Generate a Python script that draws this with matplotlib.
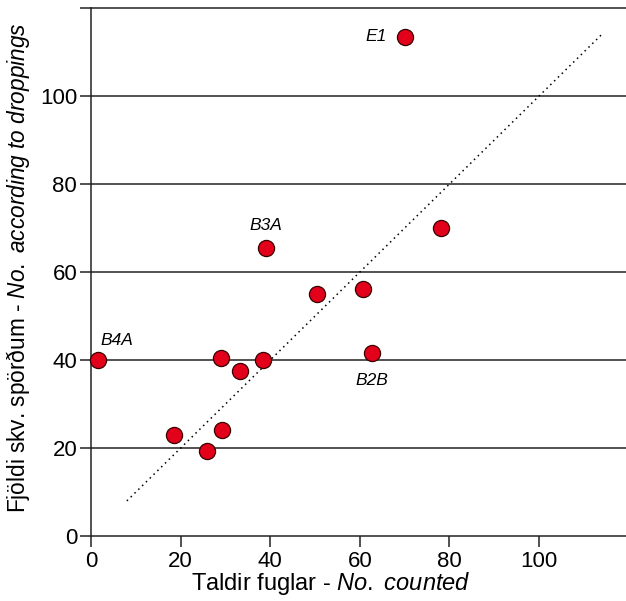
import matplotlib
matplotlib.use("Agg")
import matplotlib.pyplot as plt

plt.rcParams["font.family"] = ["Liberation Sans", "DejaVu Sans"]
plt.rcParams["mathtext.fontset"] = "custom"
plt.rcParams["mathtext.rm"] = "Liberation Sans"
plt.rcParams["mathtext.it"] = "Liberation Sans:italic"

# values
counted = [1.5, 18.5, 25.9, 29.3, 28.9, 33.2, 38.4, 39.1, 50.4, 60.6, 62.7, 70.1, 78.1]
droppings = [40.0, 23.0, 19.4, 24.1, 40.5, 37.5, 40.0, 65.5, 55.1, 56.2, 41.5, 113.5, 70.1]
site_labels = ["B4A", "", "", "", "", "", "", "B3A", "", "", "B2B", "E1", ""]
label_offsets = {"B4A": (0.5, 4.5), "B3A": (0, 5), "B2B": (0, -6.2), "E1": (-4, 0)}
label_align = {"B4A": "left", "B3A": "center", "B2B": "center", "E1": "right"}
one_to_one = [8, 114]
ytick_vals = [0, 20, 40, 60, 80, 100, 120]
ytick_text = ["0", "20", "40", "60", "80", "100", ""]
xtick_vals = [0, 20, 40, 60, 80, 100]

fig = plt.figure(figsize=(6.26, 6.01), dpi=100)
ax = fig.add_axes([0.1454, 0.108, 0.8546, 0.8787])

for y in ytick_vals[1:]:
    ax.axhline(y, color="#222222", lw=1.1, zorder=1, clip_on=False)

ax.plot(one_to_one, one_to_one, linestyle=(0, (1, 2.5)), color="black", lw=1.1, zorder=2)

ax.scatter(counted, droppings, s=135, color="#e2001a", edgecolor="#3a0000",
           linewidth=0.9, zorder=3, clip_on=False)

for x, y, lab in zip(counted, droppings, site_labels):
    if not lab:
        continue
    dx, dy = label_offsets[lab]
    ax.text(x + dx, y + dy, lab, ha=label_align[lab], va="center",
            fontsize=12.5, style="italic")

ax.set_xlim(0, 119.4)
ax.set_ylim(0, 120)
ax.set_xticks(xtick_vals)
ax.set_yticks(ytick_vals)
ax.set_yticklabels(ytick_text)

for side in ["top", "right"]:
    ax.spines[side].set_visible(False)
ax.spines["left"].set_linewidth(1.1)
ax.spines["bottom"].set_linewidth(1.1)
ax.spines["left"].set_color("#222222")
ax.spines["bottom"].set_color("#222222")

ax.tick_params(axis="both", direction="out", length=8, width=1.1,
               color="#222222", labelsize=16)
ax.tick_params(axis="x", pad=3)
ax.tick_params(axis="y", pad=2)

ax.set_xlabel("Taldir fuglar - $\\it{No.\\ counted}$", fontsize=17)
ax.xaxis.set_label_coords(0.449, -0.065)
ax.set_ylabel("Fjöldi skv. spörðum - $\\it{No.\\ according\\ to\\ droppings}$",
              fontsize=16.3)
ax.yaxis.set_label_coords(-0.111, 0.508)

fig.savefig("out.png", dpi=100)
